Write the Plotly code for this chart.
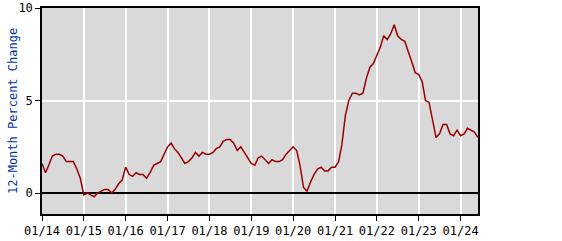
import plotly.graph_objects as go
import pandas as pd

start_month = "2014-01-01"
values = [
    1.6, 1.1, 1.5, 2.0, 2.1, 2.1, 2.0, 1.7, 1.7, 1.7, 1.3, 0.8,
    -0.1, 0.0, -0.1, -0.2, 0.0, 0.1, 0.2, 0.2, 0.0, 0.2, 0.5, 0.7,
    1.4, 1.0, 0.9, 1.1, 1.0, 1.0, 0.8, 1.1, 1.5, 1.6, 1.7, 2.1,
    2.5, 2.7, 2.4, 2.2, 1.9, 1.6, 1.7, 1.9, 2.2, 2.0, 2.2, 2.1,
    2.1, 2.2, 2.4, 2.5, 2.8, 2.9, 2.9, 2.7, 2.3, 2.5, 2.2, 1.9,
    1.6, 1.5, 1.9, 2.0, 1.8, 1.6, 1.8, 1.7, 1.7, 1.8, 2.1, 2.3,
    2.5, 2.3, 1.5, 0.3, 0.1, 0.6, 1.0, 1.3, 1.4, 1.2, 1.2, 1.4,
    1.4, 1.7, 2.6, 4.2, 5.0, 5.4, 5.4, 5.3, 5.4, 6.2, 6.8, 7.0,
    7.5, 7.9, 8.5, 8.3, 8.6, 9.1, 8.5, 8.3, 8.2, 7.7, 7.1, 6.5,
    6.4, 6.0, 5.0, 4.9, 4.0, 3.0, 3.2, 3.7, 3.7, 3.2, 3.1, 3.4,
    3.1, 3.2, 3.5, 3.4, 3.3, 3.0,
]
dates = pd.date_range(start_month, periods=len(values), freq="MS")
tick_vals = pd.date_range("2014-01-01", "2024-01-01", freq="YS")
tick_text = ["01/14", "01/15", "01/16", "01/17", "01/18", "01/19",
             "01/20", "01/21", "01/22", "01/23", "01/24"]
y_ticks = [0, 5, 10]
y_title = "12-Month Percent Change"

fig = go.Figure()
fig.add_trace(go.Scatter(
    x=dates, y=values, mode="lines",
    line=dict(color="#990000", width=1.5),
    hoverinfo="skip", showlegend=False,
))

font_family = "DejaVu Sans Mono"
fig.update_layout(
    width=562, height=241,
    margin=dict(l=42, r=84, t=8, b=27),
    paper_bgcolor="white",
    plot_bgcolor="#d9d9d9",
    font=dict(family=font_family, size=12, color="black"),
)
fig.update_xaxes(
    range=[dates[0], dates[-1]],
    tickvals=tick_vals, ticktext=tick_text,
    ticks="outside", ticklen=5, tickcolor="black", tickwidth=1,
    showgrid=True, gridcolor="white", gridwidth=1.5,
    showline=True, linecolor="black", linewidth=1.5, mirror=True,
    zeroline=False, automargin=False,
    tickfont=dict(family=font_family, size=12, color="black"),
)
fig.update_yaxes(
    range=[-1.13, 10],
    tickvals=y_ticks,
    ticks="outside", ticklen=5, tickcolor="black", tickwidth=1,
    showgrid=True, gridcolor="white", gridwidth=1.5,
    showline=True, linecolor="black", linewidth=1.5, mirror=True,
    zeroline=True, zerolinecolor="black", zerolinewidth=1.5,
    automargin=False,
    tickfont=dict(family=font_family, size=12, color="black"),
)
fig.add_annotation(
    text=y_title, textangle=-90,
    xref="paper", yref="paper", x=-29 / 436, y=0.5,
    xanchor="center", yanchor="middle", showarrow=False,
    font=dict(family=font_family, size=12, color="#0033aa"),
)

fig.write_html("out.html")
